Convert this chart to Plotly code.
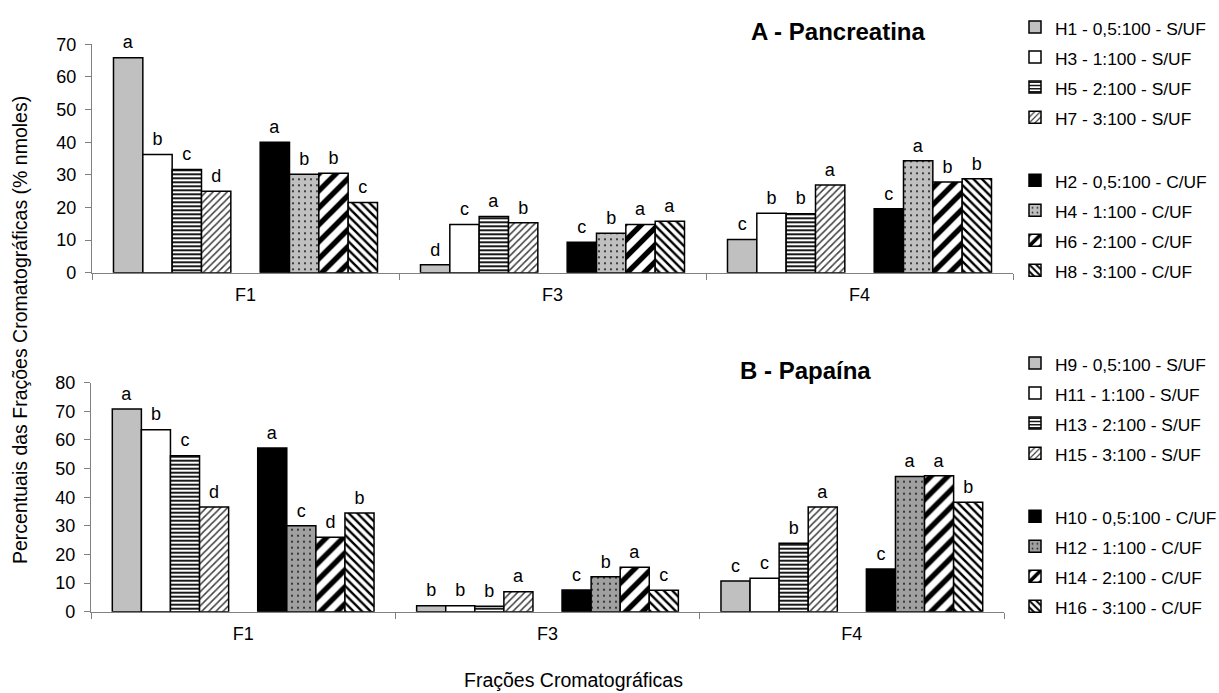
import plotly.graph_objects as go

# ---------------- data ----------------
fractions = ["F1", "F3", "F4"]

# A - Pancreatina
panc_labels = ["H1 - 0,5:100 - S/UF", "H3 - 1:100 - S/UF", "H5 - 2:100 - S/UF", "H7 - 3:100 - S/UF",
               "H2 - 0,5:100 - C/UF", "H4 - 1:100 - C/UF", "H6 - 2:100 - C/UF", "H8 - 3:100 - C/UF"]
H1 = [65.9, 2.4, 10.2]
H3 = [36.2, 14.8, 18.2]
H5 = [31.6, 17.2, 18.1]
H7 = [25.0, 15.3, 26.9]
H2 = [40.0, 9.3, 19.6]
H4 = [30.2, 12.1, 34.3]
H6 = [30.5, 14.8, 27.8]
H8 = [21.5, 15.8, 28.8]
H1_sig = ["a", "d", "c"]
H3_sig = ["b", "c", "b"]
H5_sig = ["c", "a", "b"]
H7_sig = ["d", "b", "a"]
H2_sig = ["a", "c", "c"]
H4_sig = ["b", "b", "a"]
H6_sig = ["b", "a", "b"]
H8_sig = ["c", "a", "b"]

# B - Papaína
papa_labels = ["H9 - 0,5:100 - S/UF", "H11 - 1:100 - S/UF", "H13 - 2:100 - S/UF", "H15 - 3:100 - S/UF",
               "H10 - 0,5:100 - C/UF", "H12 - 1:100 - C/UF", "H14 - 2:100 - C/UF", "H16 - 3:100 - C/UF"]
H9 = [70.8, 2.1, 10.7]
H11 = [63.6, 2.1, 11.7]
H13 = [54.5, 1.9, 23.9]
H15 = [36.6, 7.0, 36.6]
H10 = [57.2, 7.6, 14.9]
H12 = [30.0, 12.2, 47.2]
H14 = [26.0, 15.5, 47.5]
H16 = [34.5, 7.5, 38.2]
H9_sig = ["a", "b", "c"]
H11_sig = ["b", "b", "c"]
H13_sig = ["c", "b", "b"]
H15_sig = ["d", "a", "a"]
H10_sig = ["a", "c", "c"]
H12_sig = ["c", "b", "a"]
H14_sig = ["d", "a", "a"]
H16_sig = ["b", "c", "b"]

yticks_A = [0, 10, 20, 30, 40, 50, 60, 70]
yticks_B = [0, 10, 20, 30, 40, 50, 60, 70, 80]

# ---------------- styles ----------------
FONT = "Liberation Sans, Arial, sans-serif"
GRAY = "#c0c0c0"
AXIS = "#808080"


def styles(dot_bg):
    return [
        dict(color=GRAY),
        dict(color="white"),
        dict(color="white", pattern=dict(shape="-", size=4, solidity=0.45, fgcolor="black",
                                         bgcolor="white", fillmode="replace")),
        dict(color="white", pattern=dict(shape="/", size=5, solidity=0.3, fgcolor="#404040",
                                         bgcolor="white", fillmode="replace")),
        dict(color="black"),
        dict(color=dot_bg, pattern=dict(shape=".", size=6, solidity=0.1, fgcolor="#202020",
                                        bgcolor=dot_bg, fillmode="replace")),
        dict(color="white", pattern=dict(shape="/", size=12, solidity=0.45, fgcolor="black",
                                         bgcolor="white", fillmode="replace")),
        dict(color="white", pattern=dict(shape="\\", size=6, solidity=0.4, fgcolor="black",
                                         bgcolor="white", fillmode="replace")),
    ]


def sig_text(letters):
    return ["<span style='font-size:18px'>%s</span><br>\u00a0" % s for s in letters]


fig = go.Figure()


def add_panel(values, sigs, labels, sty, xa, ya, legend):
    for i in range(8):
        if i == 4:
            # empty slot between the S/UF and C/UF groups
            fig.add_trace(go.Bar(x=fractions, y=[0, 0, 0], xaxis=xa, yaxis=ya,
                                 marker=dict(color="rgba(0,0,0,0)", line=dict(width=0)),
                                 showlegend=False, hoverinfo="skip", legend=legend))
        fig.add_trace(go.Bar(
            x=fractions, y=values[i], xaxis=xa, yaxis=ya,
            name="<span style='font-size:17.4px'>%s</span>" % labels[i],
            legend=legend, legendgroup=("S" if i < 4 else "C") + legend,
            marker=dict(line=dict(color="black", width=1.5), **sty[i]),
            text=sig_text(sigs[i]), textposition="outside",
            textfont=dict(size=4, color="black", family=FONT),
            cliponaxis=False,
        ))


add_panel([H1, H3, H5, H7, H2, H4, H6, H8],
          [H1_sig, H3_sig, H5_sig, H7_sig, H2_sig, H4_sig, H6_sig, H8_sig],
          panc_labels, styles(GRAY), "x", "y", "legend")
add_panel([H9, H11, H13, H15, H10, H12, H14, H16],
          [H9_sig, H11_sig, H13_sig, H15_sig, H10_sig, H12_sig, H14_sig, H16_sig],
          papa_labels, styles("#a0a0a0"), "x2", "y2", "legend2")

W, H = 1219, 693

xcommon = dict(type="category", range=[-0.5, 2.5], showline=True, linecolor=AXIS, linewidth=1.3,
               ticks="outside", tickson="boundaries", ticklen=6, tickcolor=AXIS, tickwidth=1.3,
               tickfont=dict(family=FONT, size=18, color="black"), ticklabelstandoff=6,
               showgrid=False, zeroline=False, fixedrange=True)
ycommon = dict(showline=True, linecolor=AXIS, linewidth=1.3, ticks="outside", ticklen=6,
               tickcolor=AXIS, tickwidth=1.3, tickfont=dict(family=FONT, size=18, color="black"),
               ticklabelstandoff=5, showgrid=False, zeroline=False, fixedrange=True)

legcommon = dict(font=dict(family=FONT, size=20.8, color="black"), bgcolor="rgba(0,0,0,0)",
                 xanchor="left", yanchor="top", traceorder="grouped", tracegroupgap=33,
                 itemclick=False, itemdoubleclick=False)

fig.update_layout(
    width=W, height=H,
    margin=dict(l=0, r=0, t=0, b=0, autoexpand=False),
    paper_bgcolor="white", plot_bgcolor="white",
    barmode="group", bargap=0.14, bargroupgap=0,
    font=dict(family=FONT, size=18, color="black"),
    xaxis=dict(domain=[92 / W, 1013 / W], anchor="y", **xcommon),
    yaxis=dict(domain=[(H - 272.7) / H, (H - 44.3) / H], anchor="x", range=[0, 70],
               tickvals=yticks_A, **ycommon),
    xaxis2=dict(domain=[91 / W, 1004 / W], anchor="y2", **xcommon),
    yaxis2=dict(domain=[(H - 611.7) / H, (H - 382.7) / H], anchor="x2", range=[0, 80],
                tickvals=yticks_B, **ycommon),
    legend=dict(x=1015 / W, y=(H - 7) / H, **legcommon),
    legend2=dict(x=1015 / W, y=(H - 343) / H, **legcommon),
    annotations=[
        dict(text="<b>A - Pancreatina</b>", x=838 / W, y=(H - 31) / H, xref="paper", yref="paper",
             xanchor="center", yanchor="middle",
             showarrow=False, font=dict(family=FONT, size=24, color="black")),
        dict(text="<b>B - Papaína</b>", x=805 / W, y=(H - 370) / H, xref="paper", yref="paper",
             xanchor="center", yanchor="middle",
             showarrow=False, font=dict(family=FONT, size=24, color="black")),
        dict(text="Percentuais das Frações Cromatográficas (% nmoles)", textangle=-90,
             x=20 / W, y=(H - 330) / H, xref="paper", yref="paper", showarrow=False,
             xanchor="center", yanchor="middle",
             font=dict(family=FONT, size=19.5, color="black")),
        dict(text="Frações Cromatográficas", x=573 / W, y=(H - 680) / H, xref="paper", yref="paper",
             xanchor="center", yanchor="middle",
             showarrow=False, font=dict(family=FONT, size=19.5, color="black")),
    ],
)

fig.write_html("out.html")
